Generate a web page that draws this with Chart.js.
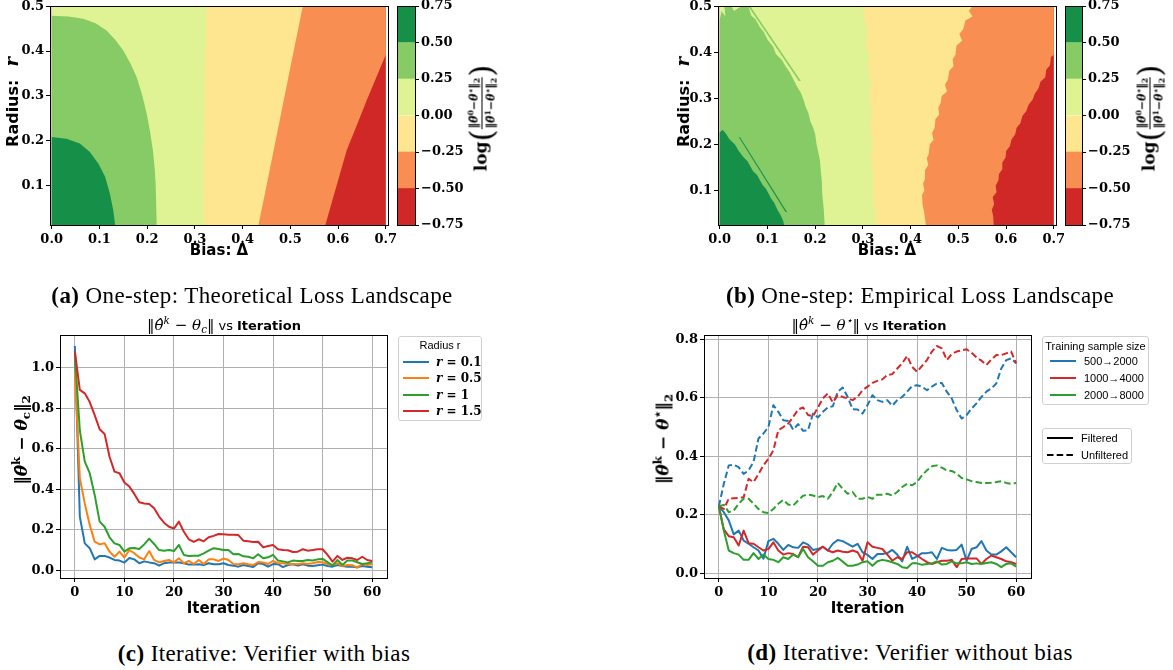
<!DOCTYPE html>
<html>
<head>
<meta charset="utf-8">
<script src="https://cdn.jsdelivr.net/npm/chart.js@4.4.1/dist/chart.umd.min.js"></script>
<style>
  body { margin: 0; background: #fff; }
  #fig { position: relative; width: 1173px; height: 670px; overflow: hidden; background: #fff; }
  canvas { position: absolute; }
  .lbl { position: absolute; white-space: nowrap; transform: translate(-50%, -50%); color: #000; line-height: 1; z-index: 2; }
  .rot { transform: translate(-50%, -50%) rotate(-90deg); }
  .cap { font-family: 'Liberation Serif', serif; font-size: 23px; letter-spacing: 0.4px; }
  .math { font-family: 'DejaVu Serif', serif; }
  sup, sub { font-size: 70%; line-height: 0; }
  sup { vertical-align: 0.55em; }
  sub { vertical-align: -0.3em; }
  .frac { display: inline-flex; flex-direction: column; align-items: center; vertical-align: middle; font-size: 11px; }
  .frac .n { border-bottom: 1px solid #000; padding: 0 1px 2px; }
  .frac .d { padding: 3px 1px 0; }
  .par { font-size: 31px; font-weight: normal; vertical-align: middle; }
  .legend { position: absolute; border: 1px solid #d0d0d0; border-radius: 3px; background: #fff; font-family: 'Liberation Sans', sans-serif; font-size: 11px; z-index: 2; box-sizing: border-box; }
  .legend .t { position: absolute; left: 0; right: 0; text-align: center; transform: translateY(-50%); }
  .legend svg { position: absolute; }
  .legend .x { position: absolute; transform: translateY(-50%); white-space: nowrap; }
</style>
</head>
<body>
<div id="fig">
  <!-- axis labels with math -->
  <div class="lbl rot" style="left:12px;top:102px;font-family:'DejaVu Sans';font-weight:bold;font-size:16px">Radius:<span class="math" style="font-style:italic;font-size:18px;margin-left:13px">r</span></div>
  <div class="lbl rot" style="left:683px;top:102px;font-family:'DejaVu Sans';font-weight:bold;font-size:16px">Radius:<span class="math" style="font-style:italic;font-size:18px;margin-left:13px">r</span></div>

  <div class="lbl rot math" style="left:482px;top:118px;font-weight:bold"><span style="font-size:17px">log</span><span class="par">(</span><span class="frac"><span class="n">‖<i>θ&#770;</i><sup>0</sup>−<i>θ</i><sup>⋆</sup>‖<sub>2</sub></span><span class="d">‖<i>θ&#770;</i><sup>1</sup>−<i>θ</i><sup>⋆</sup>‖<sub>2</sub></span></span><span class="par">)</span></div>
  <div class="lbl rot math" style="left:1150px;top:118px;font-weight:bold"><span style="font-size:17px">log</span><span class="par">(</span><span class="frac"><span class="n">‖<i>θ&#770;</i><sup>0</sup>−<i>θ</i><sup>⋆</sup>‖<sub>2</sub></span><span class="d">‖<i>θ&#770;</i><sup>1</sup>−<i>θ</i><sup>⋆</sup>‖<sub>2</sub></span></span><span class="par">)</span></div>

  <div class="lbl" style="left:224px;top:325px"><span class="math" style="font-size:15px;font-style:italic">‖θ&#770;<sup>k</sup> − θ<sub>c</sub>‖</span> <span style="font-family:'DejaVu Sans';font-size:13px">vs</span> <span style="font-family:'DejaVu Sans';font-weight:bold;font-size:13px">Iteration</span></div>
  <div class="lbl" style="left:869px;top:325px"><span class="math" style="font-size:15px;font-style:italic">‖θ&#770;<sup>k</sup> − θ<sup>⋆</sup>‖</span> <span style="font-family:'DejaVu Sans';font-size:13px">vs</span> <span style="font-family:'DejaVu Sans';font-weight:bold;font-size:13px">Iteration</span></div>

  <div class="lbl rot math" style="left:21px;top:440px;font-size:17px;font-weight:bold">‖<i>θ&#770;</i><sup>k</sup> − <i>θ</i><sub>c</sub>‖<sub>2</sub></div>
  <div class="lbl rot math" style="left:663px;top:439px;font-size:17px;font-weight:bold">‖<i>θ&#770;</i><sup>k</sup> − <i>θ</i><sup>⋆</sup>‖<sub>2</sub></div>

  <!-- captions -->
  <div class="lbl cap" style="left:252px;top:295px"><b>(a)</b> One-step: Theoretical Loss Landscape</div>
  <div class="lbl cap" style="left:920px;top:295px"><b>(b)</b> One-step: Empirical Loss Landscape</div>
  <div class="lbl cap" style="left:264px;top:653px"><b>(c)</b> Iterative: Verifier with bias</div>
  <div class="lbl cap" style="left:910px;top:652px"><b>(d)</b> Iterative: Verifier without bias</div>
</div>

<script>
// ---------- data ----------
// contour levels and colours (RdYlGn, 6 bands)
const levels = [-0.75, -0.5, -0.25, 0, 0.25, 0.5, 0.75];
const levelColors = ['#cf2827', '#f88e52', '#fee590', '#dff294', '#86cb66', '#169049'];
const levelLabels = ['−0.75', '−0.50', '−0.25', '0.00', '0.25', '0.50', '0.75'];

const biasTicks = [0, 0.1, 0.2, 0.3, 0.4, 0.5, 0.6, 0.7];
const radiusTicks = [0.1, 0.2, 0.3, 0.4, 0.5];

// (a) theoretical contour boundaries, read as (bias, radius) points
const aEdge1X = [0.7, 0.66, 0.632, 0.618, 0.573];          // orange | red
const aEdge1R = [0.392, 0.29, 0.215, 0.178, 0.01];
const aEdge2X = [0.526, 0.5, 0.472, 0.451, 0.433];         // yellow | orange
const aEdge2R = [0.5, 0.364, 0.215, 0.104, 0.01];
const aEdge3X = [0.324, 0.322, 0.32, 0.319, 0.318];        // yellow-green | yellow
const aEdge3R = [0.5, 0.4, 0.3, 0.2, 0.01];
const aEdge4X = [0, 0.035, 0.066, 0.092, 0.115, 0.133, 0.150, 0.165, 0.178, 0.190, 0.199, 0.206, 0.212, 0.216, 0.218, 0.220];
const aEdge4R = [0.479, 0.477, 0.472, 0.462, 0.446, 0.425, 0.401, 0.372, 0.342, 0.300, 0.260, 0.220, 0.178, 0.135, 0.096, 0.01];
const aEdge5X = [0, 0.031, 0.059, 0.080, 0.098, 0.112, 0.122, 0.129, 0.133];
const aEdge5R = [0.208, 0.204, 0.193, 0.174, 0.148, 0.119, 0.081, 0.044, 0.01];

// (b) empirical contour boundaries (jagged)
const bEdge1X = [0.7, 0.694, 0.692, 0.684, 0.682, 0.672, 0.668, 0.66, 0.656, 0.647, 0.642, 0.634, 0.63, 0.622, 0.619, 0.611, 0.608, 0.6, 0.599, 0.592, 0.592, 0.585, 0.584, 0.578, 0.58, 0.572, 0.575, 0.57, 0.573, 0.574];
const bEdge1R = [0.395, 0.39, 0.372, 0.362, 0.346, 0.336, 0.322, 0.31, 0.298, 0.286, 0.272, 0.262, 0.246, 0.236, 0.222, 0.21, 0.196, 0.186, 0.172, 0.16, 0.146, 0.136, 0.122, 0.11, 0.096, 0.086, 0.07, 0.058, 0.044, 0.024];
const bEdge2X = [0.529, 0.522, 0.53, 0.515, 0.51, 0.502, 0.508, 0.496, 0.494, 0.488, 0.49, 0.481, 0.478, 0.472, 0.476, 0.465, 0.463, 0.458, 0.46, 0.452, 0.45, 0.445, 0.448, 0.44, 0.438, 0.434, 0.437, 0.43, 0.43, 0.426, 0.429, 0.424, 0.425, 0.428, 0.43, 0.432];
const bEdge2R = [0.5, 0.49, 0.478, 0.47, 0.45, 0.44, 0.425, 0.415, 0.395, 0.385, 0.37, 0.36, 0.34, 0.33, 0.315, 0.305, 0.29, 0.28, 0.265, 0.255, 0.235, 0.225, 0.21, 0.2, 0.18, 0.17, 0.155, 0.145, 0.125, 0.115, 0.1, 0.09, 0.07, 0.055, 0.04, 0.024];
const bEdge3X = [0.3, 0.304, 0.31, 0.306, 0.314, 0.31, 0.317, 0.313, 0.318, 0.315, 0.32, 0.317, 0.322, 0.32, 0.325, 0.327];
const bEdge3R = [0.5, 0.47, 0.44, 0.42, 0.39, 0.37, 0.33, 0.31, 0.27, 0.24, 0.2, 0.17, 0.13, 0.1, 0.06, 0.024];
const bEdge4X = [0, 0.004, 0.012, 0.01, 0.025, 0.03, 0.045, 0.06, 0.066, 0.075, 0.084, 0.092, 0.1, 0.112, 0.118, 0.13, 0.138, 0.147, 0.155, 0.162, 0.17, 0.176, 0.18, 0.186, 0.19, 0.196, 0.2, 0.203, 0.206, 0.21, 0.212, 0.214, 0.215, 0.218, 0.22];
const bEdge4R = [0.47, 0.49, 0.478, 0.5, 0.5, 0.49, 0.5, 0.5, 0.48, 0.472, 0.455, 0.445, 0.428, 0.412, 0.396, 0.384, 0.37, 0.356, 0.34, 0.326, 0.312, 0.296, 0.282, 0.268, 0.25, 0.236, 0.222, 0.2, 0.186, 0.166, 0.14, 0.12, 0.09, 0.06, 0.024];
const bEdge5X = [0, 0.006, 0.013, 0.02, 0.032, 0.04, 0.05, 0.058, 0.07, 0.078, 0.09, 0.097, 0.108, 0.114, 0.122, 0.127, 0.133, 0.135];
const bEdge5R = [0.226, 0.232, 0.224, 0.212, 0.2, 0.186, 0.172, 0.164, 0.142, 0.134, 0.112, 0.104, 0.082, 0.074, 0.056, 0.048, 0.034, 0.024];
const bStreakDarkX = [0.040, 0.043, 0.141, 0.138];
const bStreakDarkR = [0.216, 0.215, 0.053, 0.053];
const bStreakLightX = [0.06, 0.064, 0.17, 0.166];
const bStreakLightR = [0.5, 0.5, 0.338, 0.338];

// (c) and (d) iteration curves
const iters = Array.from({length: 61}, (_, i) => i);
const iterTicks = [0, 10, 20, 30, 40, 50, 60];
const cTicks = [0, 0.2, 0.4, 0.6, 0.8, 1.0];
const dTicks = [0, 0.2, 0.4, 0.6, 0.8];

const radii = ['0.1', '0.5', '1', '1.5'];
const radiusColors = ['#1f77b4', '#ff7f0e', '#2ca02c', '#d62728'];
const cR01 = [1.107,0.265,0.133,0.109,0.054,0.071,0.071,0.063,0.051,0.048, 0.038,0.061,0.054,0.035,0.044,0.039,0.035,0.023,0.035,0.039, 0.039,0.038,0.035,0.028,0.028,0.03,0.026,0.035,0.03,0.03, 0.035,0.026,0.023,0.018,0.026,0.021,0.016,0.035,0.031,0.018, 0.031,0.03,0.016,0.026,0.03,0.023,0.03,0.023,0.021,0.025, 0.028,0.021,0.018,0.026,0.021,0.018,0.018,0.015,0.021,0.018,0.015];
const cR05 = [0.98,0.454,0.33,0.224,0.141,0.128,0.133,0.092,0.067,0.092, 0.063,0.1,0.084,0.063,0.054,0.095,0.051,0.039,0.046,0.051, 0.039,0.059,0.035,0.046,0.031,0.051,0.031,0.054,0.054,0.046, 0.058,0.051,0.031,0.03,0.035,0.03,0.026,0.041,0.039,0.031, 0.046,0.035,0.035,0.031,0.031,0.03,0.035,0.031,0.035,0.041, 0.04,0.031,0.026,0.035,0.021,0.026,0.025,0.013,0.031,0.026,0.03];
const cR1 = [1.07,0.69,0.536,0.479,0.372,0.24,0.215,0.163,0.133,0.125, 0.092,0.109,0.11,0.105,0.128,0.156,0.13,0.1,0.097,0.1, 0.095,0.125,0.076,0.071,0.072,0.072,0.084,0.097,0.109,0.105, 0.1,0.1,0.079,0.081,0.069,0.067,0.059,0.079,0.059,0.064, 0.076,0.048,0.044,0.039,0.048,0.046,0.046,0.051,0.048,0.054, 0.056,0.04,0.023,0.051,0.026,0.048,0.048,0.04,0.031,0.035,0.04];
const cR15 = [1.08,0.89,0.873,0.83,0.766,0.696,0.673,0.56,0.487,0.479, 0.433,0.413,0.377,0.336,0.33,0.327,0.306,0.265,0.235,0.215, 0.206,0.24,0.19,0.153,0.14,0.153,0.143,0.163,0.17,0.179, 0.178,0.176,0.176,0.174,0.146,0.143,0.14,0.141,0.113,0.12, 0.125,0.104,0.1,0.099,0.09,0.092,0.104,0.097,0.1,0.104, 0.104,0.076,0.043,0.071,0.051,0.062,0.059,0.051,0.067,0.051,0.046];

const sampleSizes = ['500→2000', '1000→4000', '2000→8000'];
const sampleColors = ['#1f77b4', '#d62728', '#2ca02c'];
const dBlueUnf = [0.229,0.306,0.369,0.371,0.363,0.34,0.352,0.381,0.461,0.478, 0.5,0.575,0.552,0.523,0.521,0.491,0.51,0.487,0.489,0.546, 0.533,0.552,0.567,0.571,0.621,0.635,0.603,0.561,0.56,0.546, 0.575,0.609,0.592,0.586,0.592,0.573,0.592,0.603,0.621,0.64, 0.643,0.638,0.626,0.638,0.649,0.651,0.621,0.598,0.558,0.529, 0.541,0.563,0.581,0.603,0.621,0.632,0.649,0.7,0.729,0.735,0.718];
const dRedUnf = [0.229,0.22,0.255,0.257,0.258,0.26,0.323,0.312,0.34,0.369, 0.392,0.42,0.489,0.5,0.512,0.535,0.56,0.567,0.541,0.537, 0.567,0.598,0.615,0.584,0.609,0.603,0.598,0.592,0.603,0.626, 0.638,0.651,0.658,0.663,0.678,0.681,0.7,0.718,0.743,0.706, 0.689,0.709,0.729,0.758,0.777,0.769,0.729,0.75,0.758,0.762, 0.766,0.754,0.738,0.727,0.712,0.731,0.746,0.746,0.752,0.758,0.718];
const dGreenUnf = [0.229,0.234,0.209,0.215,0.238,0.255,0.255,0.238,0.22,0.209, 0.206,0.22,0.238,0.251,0.235,0.232,0.249,0.265,0.269,0.266, 0.261,0.264,0.255,0.278,0.309,0.289,0.272,0.278,0.255,0.255, 0.261,0.255,0.269,0.269,0.272,0.266,0.278,0.295,0.306,0.301, 0.312,0.335,0.352,0.366,0.369,0.361,0.352,0.35,0.341,0.326, 0.321,0.315,0.312,0.309,0.309,0.31,0.312,0.315,0.309,0.306,0.309];
const dBlueFil = [0.229,0.209,0.181,0.133,0.146,0.112,0.101,0.089,0.078,0.05, 0.11,0.118,0.101,0.08,0.097,0.089,0.087,0.106,0.098,0.08, 0.083,0.091,0.078,0.101,0.114,0.11,0.101,0.091,0.101,0.072, 0.063,0.049,0.066,0.066,0.069,0.08,0.064,0.041,0.091,0.049, 0.058,0.069,0.069,0.072,0.049,0.087,0.08,0.078,0.08,0.098, 0.043,0.083,0.089,0.11,0.078,0.064,0.064,0.075,0.089,0.072,0.055];
const dRedFil = [0.229,0.15,0.127,0.123,0.095,0.146,0.103,0.101,0.089,0.078, 0.083,0.106,0.078,0.064,0.069,0.066,0.055,0.091,0.089,0.064, 0.078,0.091,0.078,0.072,0.078,0.074,0.072,0.078,0.072,0.043, 0.106,0.091,0.087,0.083,0.064,0.043,0.055,0.049,0.072,0.072, 0.061,0.049,0.038,0.032,0.038,0.043,0.043,0.046,0.021,0.049, 0.051,0.051,0.051,0.032,0.049,0.061,0.055,0.049,0.041,0.038,0.032];
const dGreenFil = [0.229,0.146,0.078,0.069,0.064,0.046,0.046,0.069,0.049,0.064, 0.049,0.046,0.038,0.055,0.049,0.064,0.055,0.083,0.055,0.041, 0.026,0.026,0.038,0.043,0.053,0.04,0.026,0.026,0.03,0.038, 0.041,0.026,0.041,0.046,0.043,0.038,0.032,0.021,0.018,0.034, 0.034,0.029,0.032,0.034,0.041,0.03,0.032,0.041,0.034,0.034, 0.038,0.032,0.034,0.032,0.035,0.038,0.032,0.021,0.032,0.034,0.023];

// ---------- helpers ----------
const X0 = 0, X1 = 0.7, R1 = 0.5;
Chart.defaults.animation = false;
Chart.defaults.font.family = "'DejaVu Serif', serif";
Chart.defaults.color = '#000';

const fig = document.getElementById('fig');
const tickFont = {family: "'DejaVu Serif', serif", weight: 'bold', size: 13};
const titleFont = {family: "'DejaVu Sans', sans-serif", weight: 'bold', size: 15};

function place(rect, m) {
    const c = document.createElement('canvas');
    const w = rect.r - rect.l + m.l + m.r, h = rect.b - rect.t + m.t + m.b;
    c.width = w; c.height = h;
    c.style.left = (rect.l - m.l) + 'px';
    c.style.top = (rect.t - m.t) + 'px';
    c.style.width = w + 'px'; c.style.height = h + 'px';
    fig.appendChild(c);
    return c;
}

// box around the plot (top / right spines)
const frame = {
    id: 'frame',
    afterDatasetsDraw(chart) {
        const a = chart.chartArea, ctx = chart.ctx;
        const al = v => Math.round(v - 0.5) + 0.5;
        ctx.save();
        ctx.strokeStyle = '#000'; ctx.lineWidth = 1;
        ctx.strokeRect(al(a.left), al(a.top), al(a.right) - al(a.left), al(a.bottom) - al(a.top));
        ctx.restore();
    }
};

function zip(xs, ys) { return xs.map((x, i) => ({x: x, y: ys[i]})); }

function leftOf(xs, rs, rMin) {
    const pts = zip(xs, rs);
    pts.push({x: X0, y: rMin});
    if (xs[0] > X0) pts.push({x: X0, y: R1});
    if (xs[0] > X0 && rs[0] < R1) pts.push({x: X1, y: R1});
    return pts;
}

function area(pts, color) {
    return {data: pts, fill: 'shape', backgroundColor: color, borderColor: 'rgba(0,0,0,0)',
            borderWidth: 0, pointRadius: 0, tension: 0};
}

function axisX(min, max, ticks, fmt, title, m, grid) {
    return {
        type: 'linear', min: min, max: max,
        afterBuildTicks: s => { s.ticks = ticks.map(v => ({value: v})); },
        afterFit: s => { s.height = m.b; },
        ticks: {callback: fmt, font: tickFont, color: '#000', padding: 3, autoSkip: false, maxRotation: 0},
        grid: grid ? {color: '#b0b0b0', lineWidth: 1, tickLength: 4, tickColor: '#000'}
                   : {drawOnChartArea: false, tickLength: 4, tickColor: '#000'},
        border: {color: '#000', width: 1},
        title: {display: true, text: title, font: titleFont, color: '#000', padding: 0}
    };
}

function axisY(min, max, ticks, fmt, m, grid) {
    return {
        type: 'linear', min: min, max: max,
        afterBuildTicks: s => { s.ticks = ticks.map(v => ({value: v})); },
        afterFit: s => { s.width = m.l; },
        ticks: {callback: fmt, font: tickFont, color: '#000', padding: 2, autoSkip: false},
        grid: grid ? {color: '#b0b0b0', lineWidth: 1, tickLength: 4, tickColor: '#000'}
                   : {drawOnChartArea: false, tickLength: 4, tickColor: '#000'},
        border: {color: '#000', width: 1}
    };
}

const baseOpts = m => ({
    responsive: false, devicePixelRatio: 1, events: [],
    layout: {padding: {left: 0, top: m.t, right: m.r, bottom: 0}},
    plugins: {legend: {display: false}, tooltip: {enabled: false}}
});

function contour(rect, datasets, xMin, xMax, yMin) {
    const m = {l: 50, t: 12, r: 16, b: 35};
    const opts = baseOpts(m);
    opts.scales = {
        x: axisX(xMin, xMax, biasTicks, v => v.toFixed(1), 'Bias: Δ', m, false),
        y: axisY(yMin, 0.5007, radiusTicks, v => v.toFixed(1), m, false)
    };
    new Chart(place(rect, m), {type: 'line', data: {datasets: datasets}, options: opts, plugins: [frame]});
}

function colorbar(rect) {
    const m = {l: 2, t: 12, r: 55, b: 12};
    new Chart(place(rect, m), {
        type: 'bar',
        data: {
            labels: [''],
            datasets: levelColors.map((c, i) => ({
                data: [[levels[i], levels[i + 1]]], backgroundColor: c, borderWidth: 0,
                barPercentage: 1, categoryPercentage: 1, grouped: false
            }))
        },
        options: {
            responsive: false, devicePixelRatio: 1, events: [],
            layout: {padding: {left: m.l, top: m.t, right: 0, bottom: m.b}},
            plugins: {legend: {display: false}, tooltip: {enabled: false}},
            scales: {
                x: {display: false},
                y: {
                    position: 'right', min: -0.75, max: 0.75,
                    afterBuildTicks: s => { s.ticks = levels.map(v => ({value: v})); },
                    afterFit: s => { s.width = m.r; },
                    ticks: {callback: (v, i) => levelLabels[i], font: tickFont, color: '#000', padding: 2, autoSkip: false},
                    grid: {drawOnChartArea: false, tickLength: 4, tickColor: '#000'},
                    border: {color: '#000', width: 1}
                }
            }
        },
        plugins: [frame]
    });
}

function line(ys, color, dash, order) {
    return {data: zip(iters, ys), borderColor: color, backgroundColor: color, borderWidth: 2,
            borderDash: dash ? [6.5, 3.2] : [], pointRadius: 0, tension: 0, fill: false,
            borderJoinStyle: 'round', order: order};
}

function iterChart(rect, datasets, yMin, yMax, yTicks) {
    const m = {l: 60, t: 14, r: 16, b: 40};
    const opts = baseOpts(m);
    opts.scales = {
        x: axisX(-3, 63, iterTicks, v => String(v), 'Iteration', m, true),
        y: axisY(yMin, yMax, yTicks, v => v.toFixed(1), m, true)
    };
    new Chart(place(rect, m), {type: 'line', data: {datasets: datasets}, options: opts, plugins: [frame]});
}

function legend(box, title, rows) {
    const d = document.createElement('div');
    d.className = 'legend';
    d.style.left = box.l + 'px'; d.style.top = box.t + 'px';
    d.style.width = box.w + 'px'; d.style.height = box.h + 'px';
    let html = title ? `<div class="t" style="top:${box.titleY}px">${title}</div>` : '';
    rows.forEach(r => {
        const dash = r.dash ? 'stroke-dasharray="6.5,3.2"' : '';
        html += `<svg width="26" height="4" style="left:${box.lineX}px;top:${r.y - 2}px"><line x1="0" y1="2" x2="26" y2="2" stroke="${r.color}" stroke-width="2" ${dash}/></svg>`;
        html += `<div class="x" style="left:${box.textX}px;top:${r.y}px;${r.style || ''}">${r.text}</div>`;
    });
    d.innerHTML = html;
    fig.appendChild(d);
}

// ---------- (a) theoretical landscape ----------
const aMin = 0.011;
contour({l: 50, t: 6, r: 388, b: 225}, [
    area(leftOf(aEdge5X, aEdge5R, aMin), levelColors[5]),
    area(leftOf(aEdge4X, aEdge4R, aMin), levelColors[4]),
    area(leftOf(aEdge3X, aEdge3R, aMin), levelColors[3]),
    area(leftOf(aEdge2X, aEdge2R, aMin), levelColors[2]),
    area(leftOf(aEdge1X, aEdge1R, aMin), levelColors[1]),
    area(zip([X0, X1, X1, X0], [aMin, aMin, R1, R1]), levelColors[0])
], -0.0035, 0.7045, aMin);
colorbar({l: 397, t: 6, r: 415, b: 225});

// ---------- (b) empirical landscape ----------
const bMin = 0.025;
contour({l: 718, t: 6, r: 1056, b: 225}, [
    area(leftOf(bEdge5X, bEdge5R, bMin), levelColors[5]),
    area(zip(bStreakDarkX, bStreakDarkR), levelColors[5]),
    area(zip(bStreakLightX, bStreakLightR), levelColors[4]),
    area(leftOf(bEdge4X, bEdge4R, bMin), levelColors[4]),
    area(leftOf(bEdge3X, bEdge3R, bMin), levelColors[3]),
    area(leftOf(bEdge2X, bEdge2R, bMin), levelColors[2]),
    area(leftOf(bEdge1X, bEdge1R, bMin), levelColors[1]),
    area(zip([X0, X1, X1, X0], [bMin, bMin, R1, R1]), levelColors[0])
], -0.0035, 0.7045, bMin);
colorbar({l: 1065, t: 6, r: 1082, b: 225});

// ---------- (c) verifier with bias ----------
iterChart({l: 60, t: 335, r: 387, b: 578}, [
    line(cR01, radiusColors[0], false, 3),
    line(cR05, radiusColors[1], false, 2),
    line(cR1, radiusColors[2], false, 1),
    line(cR15, radiusColors[3], false, 0)
], -0.038, 1.161, cTicks);

legend({l: 398, t: 336, w: 84, h: 85, titleY: 8, lineX: 4, textX: 37}, 'Radius r',
    radii.map((r, i) => ({y: 25 + i * 16.4, color: radiusColors[i],
        text: `<i>r</i> = ${r}`, style: "font-family:'DejaVu Serif';font-weight:bold;font-size:12px"})));

// ---------- (d) verifier without bias ----------
iterChart({l: 704, t: 335, r: 1031, b: 578}, [
    line(dBlueFil, sampleColors[0], false, 5),
    line(dRedFil, sampleColors[1], false, 4),
    line(dGreenFil, sampleColors[2], false, 3),
    line(dBlueUnf, sampleColors[0], true, 2),
    line(dRedUnf, sampleColors[1], true, 1),
    line(dGreenUnf, sampleColors[2], true, 0)
], -0.016, 0.8147, dTicks);

legend({l: 1042, t: 336, w: 107, h: 69, titleY: 9, lineX: 7, textX: 41}, 'Training sample size',
    sampleSizes.map((s, i) => ({y: 24 + i * 17.2, color: sampleColors[i], text: s})));
legend({l: 1042, t: 428, w: 90, h: 36, lineX: 4, textX: 38}, null, [
    {y: 9, color: '#000', text: 'Filtered'},
    {y: 25.5, color: '#000', text: 'Unfiltered', dash: true}
]);
</script>
</body>
</html>
